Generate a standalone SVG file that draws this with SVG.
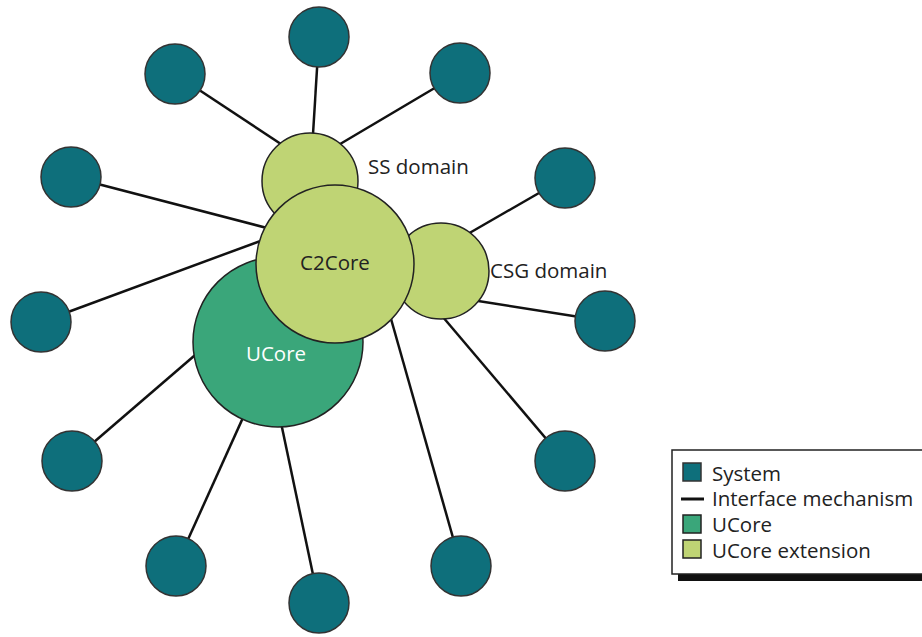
<svg xmlns="http://www.w3.org/2000/svg" width="922" height="637" viewBox="0 0 922 637">
<style>
.sys{fill:#0e6f7b;stroke:#333;stroke-width:1.5}
.ext{fill:#bfd474;stroke:#222;stroke-width:1.5}
.uc{fill:#3aa67a;stroke:#222;stroke-width:1.5}
.ln{stroke:#111;stroke-width:2.5;fill:none}
text{font-family:"Open Sans","Noto Sans",sans-serif;font-size:20.5px;fill:#222}
</style>
<rect width="922" height="637" fill="#fff"/>
<g id="connectors">
<line class="ln" x1="319" y1="37" x2="312" y2="150"/>
<line class="ln" x1="175" y1="74" x2="290" y2="150"/>
<line class="ln" x1="460" y1="73" x2="330" y2="150"/>
<line class="ln" x1="71" y1="177" x2="290" y2="234"/>
<line class="ln" x1="41" y1="322" x2="290" y2="230"/>
<line class="ln" x1="72" y1="461" x2="230" y2="325"/>
<line class="ln" x1="176" y1="566" x2="260" y2="380"/>
<line class="ln" x1="319" y1="603" x2="272" y2="380"/>
<line class="ln" x1="461" y1="566" x2="380" y2="280"/>
<line class="ln" x1="565" y1="461" x2="420" y2="290"/>
<line class="ln" x1="605" y1="321" x2="440" y2="295"/>
<line class="ln" x1="565" y1="178" x2="440" y2="250"/>
</g>
<g id="systems">
<circle class="sys" cx="319" cy="37" r="30"/>
<circle class="sys" cx="175" cy="74" r="30"/>
<circle class="sys" cx="460" cy="73" r="30"/>
<circle class="sys" cx="71" cy="177" r="30"/>
<circle class="sys" cx="565" cy="178" r="30"/>
<circle class="sys" cx="41" cy="322" r="30"/>
<circle class="sys" cx="605" cy="321" r="30"/>
<circle class="sys" cx="72" cy="461" r="30"/>
<circle class="sys" cx="565" cy="461" r="30"/>
<circle class="sys" cx="176" cy="566" r="30"/>
<circle class="sys" cx="461" cy="566" r="30"/>
<circle class="sys" cx="319" cy="603" r="30"/>
</g>
<g id="ss-domain">
<circle class="ext" cx="310" cy="181" r="48"/>
<text x="368" y="174">SS domain</text>
</g>
<g id="csg-domain">
<circle class="ext" cx="441" cy="271" r="48"/>
<text x="490" y="278">CSG domain</text>
</g>
<g id="ucore">
<circle class="uc" cx="278" cy="342" r="85"/>
<text x="276" y="361" text-anchor="middle" style="fill:#fff">UCore</text>
</g>
<g id="c2core">
<circle class="ext" cx="335" cy="264" r="79"/>
<text x="335" y="270" text-anchor="middle">C2Core</text>
</g>
<g id="legend">
<rect x="678" y="574" width="250" height="7" fill="#111"/>
<rect x="672" y="450" width="256" height="124" fill="#fff" stroke="#222" stroke-width="1.5"/>
<rect x="683" y="463" width="18" height="18" class="sys"/>
<text x="712" y="481">System</text>
<line x1="681" y1="499" x2="704" y2="499" stroke="#111" stroke-width="3"/>
<text x="712" y="506">Interface mechanism</text>
<rect x="683" y="515" width="18" height="18" class="uc"/>
<text x="712" y="532">UCore</text>
<rect x="683" y="540" width="18" height="18" class="ext"/>
<text x="712" y="558">UCore extension</text>
</g>
</svg>
